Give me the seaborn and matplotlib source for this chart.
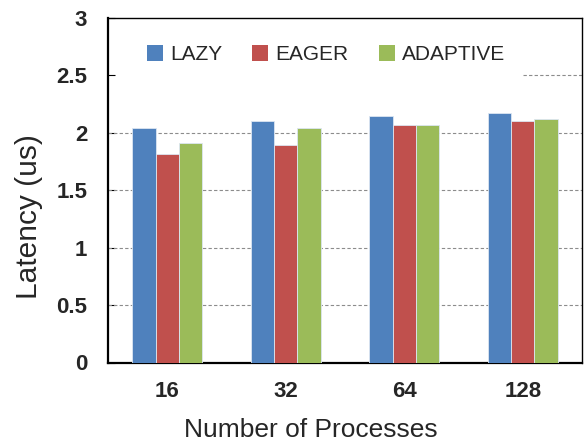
import matplotlib
matplotlib.use("Agg")
import matplotlib.pyplot as plt
import seaborn as sns
import pandas as pd
import numpy as np
from matplotlib.patches import Patch

processes = ["16", "32", "64", "128"]
series = ["LAZY", "EAGER", "ADAPTIVE"]
lazy = [2.04, 2.10, 2.15, 2.17]
eager = [1.82, 1.895, 2.07, 2.10]
adaptive = [1.91, 2.04, 2.07, 2.12]
colors = ["#4F81BD", "#C0504D", "#9BBB59"]
yticks = [0, 0.5, 1, 1.5, 2, 2.5, 3]
ytick_labels = ["0", "0.5", "1", "1.5", "2", "2.5", "3"]

df = pd.DataFrame({
    "proc": processes * 3,
    "series": [s for s in series for _ in processes],
    "val": lazy + eager + adaptive,
})

sns.set_style("white")
plt.rcParams["font.family"] = ["Liberation Sans", "DejaVu Sans"]

fig = plt.figure(figsize=(5.87, 4.43), dpi=100)
ax = fig.add_axes([108/587, 1 - 362.5/443, (582 - 108)/587, (362.5 - 18)/443])

sns.barplot(data=df, x="proc", y="val", hue="series", order=processes,
            hue_order=series, palette=colors, width=0.59, ax=ax,
            edgecolor="#dce6f2", linewidth=0.6, saturation=1, legend=False,
            zorder=3)

ax.set_ylim(0, 3)
ax.set_xlim(-0.5, 3.5)
ax.set_yticks(yticks)
ax.set_yticklabels(ytick_labels, fontsize=16, fontweight="bold")
ax.set_xticks(range(len(processes)))
ax.set_xticklabels(processes, fontsize=16, fontweight="bold")
ax.set_xticks(np.arange(-0.5, 3.6, 1.0), minor=True)
ax.tick_params(axis="x", which="both", direction="in", length=4, width=0.8,
               pad=13, color="black")
ax.tick_params(axis="y", which="major", direction="in", length=5, width=0.8,
               pad=15, color="black")
ax.tick_params(axis="x", which="major", bottom=True)
ax.tick_params(axis="y", which="major", left=True)

for v in [0.5, 1, 1.5, 2]:
    ax.axhline(v, color="#8c8c8c", linestyle=(0, (3, 2)), linewidth=0.8, zorder=1)
ax.axhline(2.5, xmin=0.876, color="#8c8c8c", linestyle=(0, (3, 2)),
           linewidth=0.8, zorder=1)

for sp in ax.spines.values():
    sp.set_visible(True)
    sp.set_color("black")
ax.spines["left"].set_linewidth(1.6)
ax.spines["bottom"].set_linewidth(1.6)
ax.spines["top"].set_linewidth(1.0)
ax.spines["right"].set_linewidth(1.0)

ax.set_xlabel("Number of Processes", fontsize=19)
ax.xaxis.set_label_coords(0.428, -0.162)
ax.set_ylabel("Latency (us)", fontsize=21.5)
ax.yaxis.set_label_coords(-0.137, 0.424)

handles = [Patch(facecolor=c, edgecolor="none") for c in colors]
leg = ax.legend(handles, series, loc="center left", bbox_to_anchor=(0.082, 0.893),
                ncol=3, frameon=False, fontsize=15, handlelength=0.77,
                handleheight=0.77, handletextpad=0.35, columnspacing=1.44,
                borderpad=0.0, borderaxespad=0.0)

fig.savefig("out.png", dpi=100)
